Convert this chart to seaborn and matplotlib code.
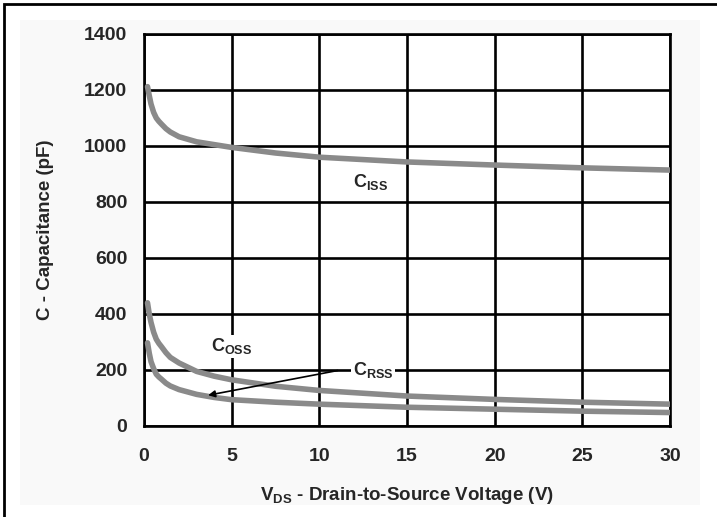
import matplotlib
matplotlib.use("Agg")
import matplotlib.pyplot as plt
import seaborn as sns
import pandas as pd
from matplotlib.patches import Rectangle

vds = [0.2, 0.3, 0.4, 0.55, 0.7, 0.85, 1, 1.25, 1.5, 2, 3, 4, 5, 7.5, 10, 15, 20, 25, 30]
ciss = [1212, 1180, 1150, 1120, 1100, 1088, 1078, 1062, 1050, 1033, 1015, 1005, 995, 975, 960, 943, 932, 922, 914]
coss = [440, 400, 370, 335, 310, 295, 283, 262, 245, 225, 195, 178, 165, 142, 127, 107, 95, 85, 78]
crss = [297, 260, 230, 205, 185, 175, 167, 153, 143, 130, 113, 102, 94, 85, 78, 67, 60, 53, 48]
x_ticks = [0, 5, 10, 15, 20, 25, 30]
y_ticks = [0, 200, 400, 600, 800, 1000, 1200, 1400]

df = pd.DataFrame({
    "V": vds * 3,
    "C": ciss + coss + crss,
    "series": ["Ciss"] * len(vds) + ["Coss"] * len(vds) + ["Crss"] * len(vds),
})

sns.set_style("white")
plt.rcParams["font.family"] = ["Liberation Sans", "DejaVu Sans"]
plt.rcParams["mathtext.fontset"] = "custom"
plt.rcParams["mathtext.rm"] = "Liberation Sans:bold"
plt.rcParams["mathtext.it"] = "Liberation Sans:bold"
plt.rcParams["mathtext.bf"] = "Liberation Sans:bold"

fig = plt.figure(figsize=(7.17, 5.17), dpi=100)
fig.patch.set_facecolor("white")
fig.patches.append(Rectangle((20 / 717, 12 / 517), 680 / 717, 485 / 517,
                             transform=fig.transFigure, facecolor="#f9f9f9",
                             edgecolor="none", zorder=-2))
fig.patches.append(Rectangle((4 / 717, -0.05), 1.1, 1 - 4 / 517 + 0.05,
                             transform=fig.transFigure, facecolor="none",
                             edgecolor="black", linewidth=2, zorder=5))
ax = fig.add_axes([144 / 717, 91 / 517, 526 / 717, 392 / 517])
ax.set_facecolor("white")

sns.lineplot(data=df, x="V", y="C", units="series", estimator=None,
             color="#8a8a8a", linewidth=4, ax=ax, zorder=3)

ax.set_xlim(0, 30)
ax.set_ylim(0, 1400)
ax.set_xticks(x_ticks)
ax.set_yticks(y_ticks)
ax.grid(True, color="black", linewidth=1.9)
ax.set_axisbelow(True)
for s in ax.spines.values():
    s.set_visible(True)
    s.set_color("black")
    s.set_linewidth(1.9)
ax.tick_params(axis="x", length=0, pad=16, labelsize=14)
ax.tick_params(axis="y", length=0, pad=12, labelsize=14)
for lab in ax.get_xticklabels() + ax.get_yticklabels():
    lab.set_fontweight("bold")
ax.set_xlabel(r"V$_{\mathregular{DS}}$ - Drain-to-Source Voltage (V)",
              fontsize=13.5, fontweight="bold", labelpad=14)
ax.set_ylabel("C - Capacitance (pF)", fontsize=13.5, fontweight="bold", labelpad=22)

ax.text(12.9, 870, r"C$_{\mathregular{ISS}}$", fontsize=13, fontweight="bold",
        ha="center", va="center", zorder=4,
        bbox=dict(facecolor="white", edgecolor="none", pad=1))
ax.text(5.0, 285, r"C$_{\mathregular{OSS}}$", fontsize=13, fontweight="bold",
        ha="center", va="center", zorder=4,
        bbox=dict(facecolor="white", edgecolor="none", pad=1))
ax.text(11.9, 200, r"C$_{\mathregular{RSS}}$", fontsize=13, fontweight="bold",
        ha="left", va="center", zorder=4,
        bbox=dict(facecolor="white", edgecolor="none", pad=1))
ax.annotate("", xy=(3.5, 108), xytext=(11.2, 200),
            arrowprops=dict(arrowstyle="-|>", color="black", lw=1.2,
                            mutation_scale=10), zorder=4)

fig.savefig("out.png", dpi=100)
